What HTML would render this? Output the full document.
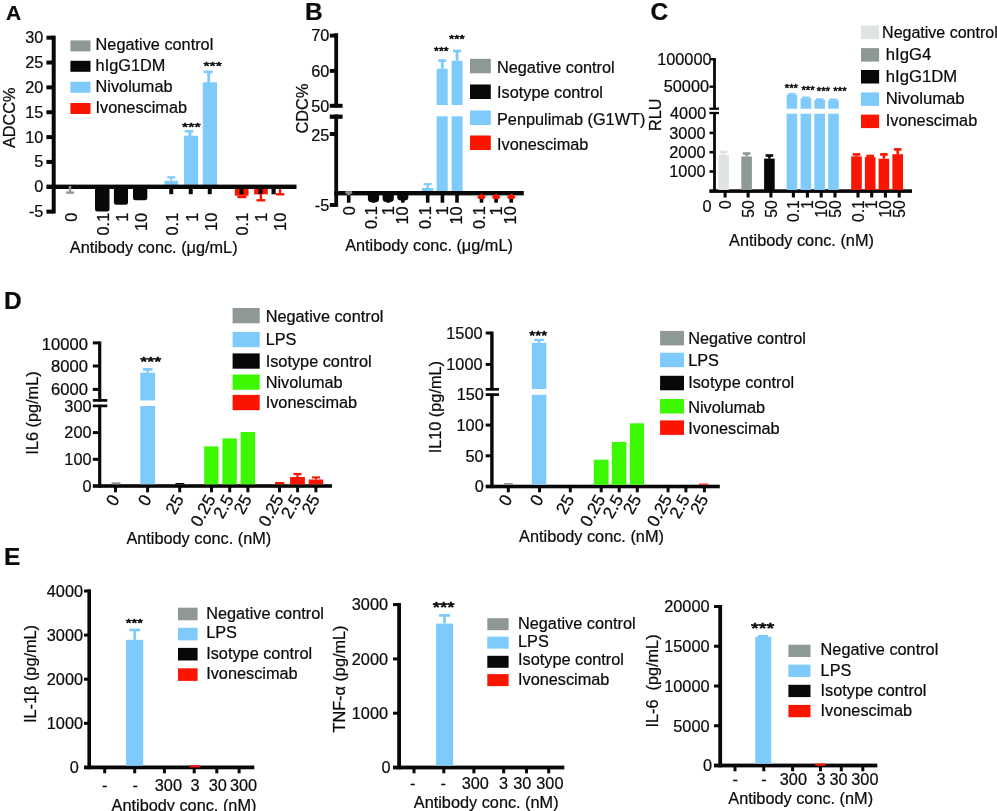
<!DOCTYPE html>
<html lang="en"><head><meta charset="utf-8"><title>Figure</title>
<style>
html,body{margin:0;padding:0;background:#fff;}
body{width:997px;height:811px;overflow:hidden;}
svg{display:block;filter:blur(0.4px);font-family:"Liberation Sans",sans-serif;fill:#0b0b0b;}
text{stroke:#0b0b0b;stroke-width:.22px;stroke-linejoin:round;}
</style></head><body>
<svg width="997" height="811" viewBox="0 0 997 811">
<rect x="0" y="0" width="997" height="811" fill="#ffffff"/>
<text x="6.00" y="20.00" font-size="21" font-weight="bold">A</text>
<rect x="51.70" y="35.60" width="4.00" height="178.00" fill="#080808"/>
<rect x="46.40" y="209.65" width="6.60" height="4.00" fill="#080808"/>
<text x="43.40" y="217.15" font-size="16.3" text-anchor="end">-5</text>
<text x="43.40" y="192.30" font-size="16.3" text-anchor="end">0</text>
<rect x="46.40" y="159.95" width="6.60" height="4.00" fill="#080808"/>
<text x="43.40" y="167.45" font-size="16.3" text-anchor="end">5</text>
<rect x="46.40" y="135.10" width="6.60" height="4.00" fill="#080808"/>
<text x="43.40" y="142.60" font-size="16.3" text-anchor="end">10</text>
<rect x="46.40" y="110.25" width="6.60" height="4.00" fill="#080808"/>
<text x="43.40" y="117.75" font-size="16.3" text-anchor="end">15</text>
<rect x="46.40" y="85.40" width="6.60" height="4.00" fill="#080808"/>
<text x="43.40" y="92.90" font-size="16.3" text-anchor="end">20</text>
<rect x="46.40" y="60.55" width="6.60" height="4.00" fill="#080808"/>
<text x="43.40" y="68.05" font-size="16.3" text-anchor="end">25</text>
<rect x="46.40" y="35.70" width="6.60" height="4.00" fill="#080808"/>
<text x="43.40" y="43.20" font-size="16.3" text-anchor="end">30</text>
<text x="14.80" y="117.80" font-size="16.3" text-anchor="middle" transform="rotate(-90 14.80 117.80)">ADCC%</text>
<rect x="70.40" y="40.40" width="20.10" height="11.00" fill="#8e9997"/>
<text x="95.60" y="50.10" font-size="16.3">Negative control</text>
<rect x="70.40" y="60.80" width="20.10" height="11.00" fill="#080808"/>
<text x="95.60" y="70.70" font-size="16.3">hIgG1DM</text>
<rect x="70.40" y="81.70" width="20.10" height="11.00" fill="#7dcafb"/>
<text x="95.60" y="91.90" font-size="16.3">Nivolumab</text>
<rect x="70.40" y="103.00" width="20.10" height="11.00" fill="#fb1400"/>
<text x="95.60" y="112.70" font-size="16.3">Ivonescimab</text>
<path d="M95.00 188.00H109.50V209.10Q109.50 211.60 107.00 211.60H97.50Q95.00 211.60 95.00 209.10Z" fill="#080808"/>
<path d="M113.90 188.00H128.00V202.20Q128.00 204.70 125.50 204.70H116.40Q113.90 204.70 113.90 202.20Z" fill="#080808"/>
<path d="M133.00 188.00H147.30V197.70Q147.30 200.20 144.80 200.20H135.50Q133.00 200.20 133.00 197.70Z" fill="#080808"/>
<rect x="164.50" y="180.75" width="13.50" height="4.25" fill="#7dcafb"/>
<rect x="170.15" y="177.30" width="2.20" height="3.45" fill="#7dcafb"/>
<rect x="167.25" y="176.20" width="8.00" height="2.20" fill="#7dcafb"/>
<rect x="184.00" y="135.70" width="14.20" height="49.30" fill="#7dcafb"/>
<rect x="188.50" y="131.00" width="2.80" height="5.00" fill="#7dcafb"/>
<rect x="184.80" y="130.05" width="8.50" height="2.50" fill="#7dcafb"/>
<rect x="202.80" y="82.30" width="14.20" height="102.70" fill="#7dcafb"/>
<rect x="207.25" y="71.50" width="2.90" height="11.50" fill="#7dcafb"/>
<rect x="203.70" y="70.55" width="9.00" height="2.70" fill="#7dcafb"/>
<rect x="234.80" y="188.00" width="13.70" height="7.70" fill="#fb1400"/>
<rect x="237.30" y="195.70" width="9.20" height="2.50" fill="#fb1400"/>
<rect x="254.10" y="188.00" width="13.70" height="6.30" fill="#fb1400"/>
<rect x="259.70" y="194.30" width="2.40" height="6.00" fill="#fb1400"/>
<rect x="256.50" y="199.10" width="8.80" height="2.40" fill="#fb1400"/>
<rect x="278.90" y="187.00" width="2.40" height="7.30" fill="#fb1400"/>
<rect x="275.90" y="193.10" width="8.40" height="2.40" fill="#fb1400"/>
<rect x="46.40" y="184.60" width="250.10" height="4.40" fill="#080808"/>
<text x="77.00" y="212.80" font-size="16.3" text-anchor="end" transform="rotate(-90 77.00 212.80)">0</text>
<rect x="100.00" y="188.00" width="4.00" height="6.20" fill="#080808"/>
<text x="109.00" y="212.80" font-size="16.3" text-anchor="end" transform="rotate(-90 109.00 212.80)">0.1</text>
<rect x="118.60" y="188.00" width="4.00" height="6.20" fill="#080808"/>
<text x="127.60" y="212.80" font-size="16.3" text-anchor="end" transform="rotate(-90 127.60 212.80)">1</text>
<rect x="137.70" y="188.00" width="4.00" height="6.20" fill="#080808"/>
<text x="146.70" y="212.80" font-size="16.3" text-anchor="end" transform="rotate(-90 146.70 212.80)">10</text>
<rect x="169.25" y="188.00" width="4.00" height="6.20" fill="#080808"/>
<text x="178.25" y="212.80" font-size="16.3" text-anchor="end" transform="rotate(-90 178.25 212.80)">0.1</text>
<rect x="188.75" y="188.00" width="4.00" height="6.20" fill="#080808"/>
<text x="197.75" y="212.80" font-size="16.3" text-anchor="end" transform="rotate(-90 197.75 212.80)">1</text>
<rect x="207.75" y="188.00" width="4.00" height="6.20" fill="#080808"/>
<text x="216.75" y="212.80" font-size="16.3" text-anchor="end" transform="rotate(-90 216.75 212.80)">10</text>
<rect x="239.50" y="188.00" width="4.00" height="6.20" fill="#080808"/>
<text x="248.50" y="212.80" font-size="16.3" text-anchor="end" transform="rotate(-90 248.50 212.80)">0.1</text>
<rect x="258.50" y="188.00" width="4.00" height="6.20" fill="#080808"/>
<text x="267.50" y="212.80" font-size="16.3" text-anchor="end" transform="rotate(-90 267.50 212.80)">1</text>
<text x="286.50" y="212.80" font-size="16.3" text-anchor="end" transform="rotate(-90 286.50 212.80)">10</text>
<rect x="271.50" y="188.00" width="4.20" height="6.30" fill="#080808"/>
<rect x="68.80" y="186.00" width="2.40" height="6.60" fill="#8e9997"/>
<rect x="66.00" y="191.40" width="8.00" height="2.40" fill="#8e9997"/>
<text transform="translate(191.40 131.12) scale(1.469 1)" x="0" y="0" font-size="10.85" text-anchor="middle" style="stroke-width:0.54px">***</text>
<text transform="translate(212.60 70.14) scale(1.417 1)" x="0" y="0" font-size="11.06" text-anchor="middle" style="stroke-width:0.55px">***</text>
<text x="153.70" y="252.70" font-size="16.3" text-anchor="middle">Antibody conc. (μg/mL)</text>
<text x="304.90" y="19.90" font-size="24.5" font-weight="bold">B</text>
<rect x="334.30" y="33.20" width="3.80" height="74.30" fill="#080808"/>
<rect x="334.30" y="114.50" width="3.80" height="92.30" fill="#080808"/>
<rect x="329.80" y="103.80" width="12.80" height="4.00" fill="#080808"/>
<rect x="329.80" y="114.60" width="12.80" height="4.20" fill="#080808"/>
<rect x="329.80" y="33.65" width="7.20" height="3.90" fill="#080808"/>
<rect x="329.80" y="68.95" width="7.20" height="3.90" fill="#080808"/>
<text x="329.30" y="41.00" font-size="16.3" text-anchor="end">70</text>
<text x="329.30" y="76.70" font-size="16.3" text-anchor="end">60</text>
<text x="329.30" y="111.80" font-size="16.3" text-anchor="end">50</text>
<rect x="329.80" y="132.05" width="7.20" height="3.90" fill="#080808"/>
<text x="329.30" y="140.60" font-size="16.3" text-anchor="end">25</text>
<rect x="329.80" y="203.05" width="7.20" height="3.90" fill="#080808"/>
<text x="329.30" y="210.80" font-size="16.3" text-anchor="end">-5</text>
<text x="308.00" y="108.50" font-size="16.3" text-anchor="middle" transform="rotate(-90 308.00 108.50)">CDC%</text>
<rect x="421.90" y="188.00" width="11.40" height="4.00" fill="#7dcafb"/>
<rect x="426.50" y="184.20" width="2.20" height="3.80" fill="#7dcafb"/>
<rect x="423.60" y="183.10" width="8.00" height="2.20" fill="#7dcafb"/>
<rect x="436.60" y="68.80" width="11.10" height="36.20" fill="#7dcafb"/>
<rect x="436.60" y="116.30" width="11.10" height="75.70" fill="#7dcafb"/>
<rect x="440.90" y="60.60" width="2.80" height="8.20" fill="#7dcafb"/>
<rect x="438.40" y="59.20" width="7.80" height="2.80" fill="#7dcafb"/>
<rect x="451.60" y="60.80" width="11.00" height="44.20" fill="#7dcafb"/>
<rect x="451.60" y="116.30" width="11.00" height="75.70" fill="#7dcafb"/>
<rect x="455.70" y="51.00" width="2.80" height="9.80" fill="#7dcafb"/>
<rect x="453.10" y="49.60" width="8.00" height="2.80" fill="#7dcafb"/>
<rect x="334.30" y="191.00" width="189.50" height="4.40" fill="#080808"/>
<rect x="346.90" y="194.00" width="3.60" height="8.70" fill="#080808"/>
<text x="354.80" y="206.30" font-size="16.3" text-anchor="end" transform="rotate(-90 354.80 206.30)">0</text>
<rect x="371.70" y="194.00" width="3.60" height="8.70" fill="#080808"/>
<text x="377.20" y="206.30" font-size="16.3" text-anchor="end" transform="rotate(-90 377.20 206.30)">0.1</text>
<rect x="386.40" y="194.00" width="3.60" height="8.70" fill="#080808"/>
<text x="394.30" y="206.30" font-size="16.3" text-anchor="end" transform="rotate(-90 394.30 206.30)">1</text>
<rect x="401.00" y="194.00" width="3.60" height="8.70" fill="#080808"/>
<text x="407.90" y="206.30" font-size="16.3" text-anchor="end" transform="rotate(-90 407.90 206.30)">10</text>
<rect x="425.90" y="194.00" width="3.60" height="8.70" fill="#080808"/>
<text x="431.40" y="206.30" font-size="16.3" text-anchor="end" transform="rotate(-90 431.40 206.30)">0.1</text>
<rect x="440.60" y="194.00" width="3.60" height="8.70" fill="#080808"/>
<text x="448.50" y="206.30" font-size="16.3" text-anchor="end" transform="rotate(-90 448.50 206.30)">1</text>
<rect x="455.20" y="194.00" width="3.60" height="8.70" fill="#080808"/>
<text x="462.10" y="206.30" font-size="16.3" text-anchor="end" transform="rotate(-90 462.10 206.30)">10</text>
<rect x="479.70" y="194.00" width="3.60" height="8.70" fill="#080808"/>
<text x="485.20" y="206.30" font-size="16.3" text-anchor="end" transform="rotate(-90 485.20 206.30)">0.1</text>
<rect x="494.30" y="194.00" width="3.60" height="8.70" fill="#080808"/>
<text x="502.20" y="206.30" font-size="16.3" text-anchor="end" transform="rotate(-90 502.20 206.30)">1</text>
<rect x="509.40" y="194.00" width="3.60" height="8.70" fill="#080808"/>
<text x="516.30" y="206.30" font-size="16.3" text-anchor="end" transform="rotate(-90 516.30 206.30)">10</text>
<path d="M367.90 194.5H379.10V198.80Q379.10 202.30 375.30 202.30H371.70Q367.90 202.30 367.90 198.80Z" fill="#080808"/>
<path d="M382.60 194.5H393.80V198.50Q393.80 202.00 390.00 202.00H386.40Q382.60 202.00 382.60 198.50Z" fill="#080808"/>
<path d="M397.20 194.5H408.40V197.00Q408.40 200.50 404.60 200.50H401.00Q397.20 200.50 397.20 197.00Z" fill="#080808"/>
<rect x="345.30" y="191.20" width="6.90" height="2.40" fill="#8e9997"/>
<path d="M345.3 193.6H352.2L348.7 195.6Z" fill="#8e9997"/>
<path d="M481.50 193.6L485.70 196.4L484.50 199H478.50L477.30 196.4Z" fill="#fb1400"/>
<path d="M496.10 193.6L500.30 196.4L499.10 199H493.10L491.90 196.4Z" fill="#fb1400"/>
<path d="M511.20 193.6L515.40 196.4L514.20 199H508.20L507.00 196.4Z" fill="#fb1400"/>
<text transform="translate(441.30 54.74) scale(1.118 1)" x="0" y="0" font-size="11.06" text-anchor="middle" style="stroke-width:0.55px">***</text>
<text transform="translate(456.80 43.49) scale(1.146 1)" x="0" y="0" font-size="11.70" text-anchor="middle" style="stroke-width:0.59px">***</text>
<rect x="470.00" y="58.80" width="20.80" height="14.50" fill="#8e9997"/>
<text x="497.00" y="72.80" font-size="16.3">Negative control</text>
<rect x="470.00" y="84.50" width="20.80" height="14.50" fill="#080808"/>
<text x="497.00" y="98.30" font-size="16.3">Isotype control</text>
<rect x="470.00" y="110.50" width="20.80" height="14.50" fill="#7dcafb"/>
<text x="497.00" y="124.80" font-size="16.3">Penpulimab (G1WT)</text>
<rect x="470.00" y="135.50" width="20.80" height="14.50" fill="#fb1400"/>
<text x="497.00" y="149.80" font-size="16.3">Ivonescimab</text>
<text x="429.00" y="251.00" font-size="16.3" text-anchor="middle">Antibody conc. (μg/mL)</text>
<text x="650.50" y="20.30" font-size="24.5" font-weight="bold">C</text>
<rect x="713.10" y="58.00" width="2.80" height="51.50" fill="#080808"/>
<rect x="713.10" y="112.20" width="2.80" height="80.20" fill="#080808"/>
<rect x="709.40" y="107.55" width="9.60" height="2.30" fill="#080808"/>
<rect x="709.40" y="111.85" width="9.60" height="2.30" fill="#080808"/>
<rect x="710.50" y="58.00" width="3.50" height="2.40" fill="#080808"/>
<text x="711.50" y="65.00" font-size="16.3" text-anchor="end">100000</text>
<rect x="709.50" y="85.50" width="4.50" height="2.40" fill="#080808"/>
<text x="709.00" y="92.10" font-size="16.3" text-anchor="end">50000</text>
<text x="706.30" y="119.10" font-size="16.3" text-anchor="end">4000</text>
<rect x="709.50" y="170.20" width="4.50" height="2.60" fill="#080808"/>
<text x="705.50" y="177.30" font-size="16.3" text-anchor="end">1000</text>
<rect x="709.50" y="150.90" width="4.50" height="2.60" fill="#080808"/>
<text x="705.50" y="158.00" font-size="16.3" text-anchor="end">2000</text>
<rect x="709.50" y="131.60" width="4.50" height="2.60" fill="#080808"/>
<text x="705.50" y="138.70" font-size="16.3" text-anchor="end">3000</text>
<text x="711.50" y="211.50" font-size="16.3" text-anchor="end">0</text>
<rect x="709.30" y="189.30" width="202.70" height="3.60" fill="#080808"/>
<text x="661.50" y="114.80" font-size="16.3" text-anchor="middle" transform="rotate(-90 661.50 114.80)">RLU</text>
<rect x="723.55" y="192.00" width="3.10" height="5.50" fill="#080808"/>
<text x="730.90" y="200.30" font-size="15.6" text-anchor="end" transform="rotate(-90 730.90 200.30)">0</text>
<rect x="746.55" y="192.00" width="3.10" height="5.50" fill="#080808"/>
<text x="753.90" y="200.30" font-size="15.6" text-anchor="end" transform="rotate(-90 753.90 200.30)">50</text>
<rect x="769.35" y="192.00" width="3.10" height="5.50" fill="#080808"/>
<text x="776.70" y="200.30" font-size="15.6" text-anchor="end" transform="rotate(-90 776.70 200.30)">50</text>
<rect x="791.85" y="192.00" width="3.10" height="5.50" fill="#080808"/>
<text x="799.20" y="200.30" font-size="15.6" text-anchor="end" transform="rotate(-90 799.20 200.30)">0.1</text>
<rect x="805.85" y="192.00" width="3.10" height="5.50" fill="#080808"/>
<text x="813.20" y="200.30" font-size="15.6" text-anchor="end" transform="rotate(-90 813.20 200.30)">1</text>
<rect x="819.65" y="192.00" width="3.10" height="5.50" fill="#080808"/>
<text x="827.00" y="200.30" font-size="15.6" text-anchor="end" transform="rotate(-90 827.00 200.30)">10</text>
<rect x="833.45" y="192.00" width="3.10" height="5.50" fill="#080808"/>
<text x="840.80" y="200.30" font-size="15.6" text-anchor="end" transform="rotate(-90 840.80 200.30)">50</text>
<rect x="856.45" y="192.00" width="3.10" height="5.50" fill="#080808"/>
<text x="863.80" y="200.30" font-size="15.6" text-anchor="end" transform="rotate(-90 863.80 200.30)">0.1</text>
<rect x="870.15" y="192.00" width="3.10" height="5.50" fill="#080808"/>
<text x="877.50" y="200.30" font-size="15.6" text-anchor="end" transform="rotate(-90 877.50 200.30)">1</text>
<rect x="883.85" y="192.00" width="3.10" height="5.50" fill="#080808"/>
<text x="891.20" y="200.30" font-size="15.6" text-anchor="end" transform="rotate(-90 891.20 200.30)">10</text>
<rect x="897.65" y="192.00" width="3.10" height="5.50" fill="#080808"/>
<text x="905.00" y="200.30" font-size="15.6" text-anchor="end" transform="rotate(-90 905.00 200.30)">50</text>
<rect x="718.30" y="154.70" width="10.60" height="35.30" fill="#dfe3e3"/>
<rect x="722.30" y="151.80" width="2.60" height="2.90" fill="#dfe3e3"/>
<rect x="719.80" y="150.50" width="7.60" height="2.60" fill="#dfe3e3"/>
<rect x="741.30" y="156.50" width="10.60" height="33.50" fill="#8e9997"/>
<rect x="745.30" y="153.50" width="2.60" height="3.00" fill="#8e9997"/>
<rect x="742.80" y="152.20" width="7.60" height="2.60" fill="#8e9997"/>
<rect x="764.10" y="158.60" width="10.60" height="31.40" fill="#080808"/>
<rect x="768.10" y="155.50" width="2.60" height="3.10" fill="#080808"/>
<rect x="765.60" y="154.20" width="7.60" height="2.60" fill="#080808"/>
<rect x="786.60" y="94.80" width="10.60" height="13.90" fill="#7dcafb"/>
<rect x="788.10" y="93.10" width="7.60" height="1.80" fill="#7dcafb"/>
<rect x="786.60" y="113.70" width="10.60" height="76.30" fill="#7dcafb"/>
<rect x="800.60" y="98.30" width="10.60" height="10.40" fill="#7dcafb"/>
<rect x="802.10" y="96.60" width="7.60" height="1.80" fill="#7dcafb"/>
<rect x="800.60" y="113.70" width="10.60" height="76.30" fill="#7dcafb"/>
<rect x="814.40" y="100.00" width="10.60" height="8.70" fill="#7dcafb"/>
<rect x="815.90" y="98.30" width="7.60" height="1.80" fill="#7dcafb"/>
<rect x="814.40" y="113.70" width="10.60" height="76.30" fill="#7dcafb"/>
<rect x="828.20" y="100.20" width="10.60" height="8.50" fill="#7dcafb"/>
<rect x="829.70" y="98.50" width="7.60" height="1.80" fill="#7dcafb"/>
<rect x="828.20" y="113.70" width="10.60" height="76.30" fill="#7dcafb"/>
<rect x="851.20" y="156.40" width="10.60" height="33.60" fill="#fb1400"/>
<rect x="855.20" y="154.40" width="2.60" height="2.00" fill="#fb1400"/>
<rect x="852.70" y="153.10" width="7.60" height="2.60" fill="#fb1400"/>
<rect x="864.90" y="157.10" width="10.60" height="32.90" fill="#fb1400"/>
<rect x="868.90" y="156.00" width="2.60" height="1.10" fill="#fb1400"/>
<rect x="866.40" y="154.70" width="7.60" height="2.60" fill="#fb1400"/>
<rect x="878.60" y="158.70" width="10.60" height="31.30" fill="#fb1400"/>
<rect x="882.60" y="154.40" width="2.60" height="4.30" fill="#fb1400"/>
<rect x="880.10" y="153.10" width="7.60" height="2.60" fill="#fb1400"/>
<rect x="892.40" y="154.20" width="10.60" height="35.80" fill="#fb1400"/>
<rect x="896.40" y="149.40" width="2.60" height="4.80" fill="#fb1400"/>
<rect x="893.90" y="148.10" width="7.60" height="2.60" fill="#fb1400"/>
<text transform="translate(791.40 91.90) scale(1.073 1)" x="0" y="0" font-size="10.64" text-anchor="middle" style="stroke-width:0.53px">***</text>
<text transform="translate(808.10 93.60) scale(1.073 1)" x="0" y="0" font-size="10.64" text-anchor="middle" style="stroke-width:0.53px">***</text>
<text transform="translate(823.40 94.70) scale(1.073 1)" x="0" y="0" font-size="10.64" text-anchor="middle" style="stroke-width:0.53px">***</text>
<text transform="translate(840.00 94.70) scale(1.073 1)" x="0" y="0" font-size="10.64" text-anchor="middle" style="stroke-width:0.53px">***</text>
<rect x="861.00" y="25.60" width="18.10" height="13.50" fill="#dfe3e3"/>
<text x="882.10" y="38.00" font-size="16.0">Negative control</text>
<rect x="861.00" y="48.10" width="18.10" height="13.50" fill="#8e9997"/>
<text x="885.80" y="59.60" font-size="16.7">hIgG4</text>
<rect x="861.00" y="70.00" width="18.10" height="13.50" fill="#080808"/>
<text x="885.80" y="81.90" font-size="16.7">hIgG1DM</text>
<rect x="861.00" y="92.40" width="18.10" height="13.50" fill="#7dcafb"/>
<text x="885.80" y="104.20" font-size="16.7">Nivolumab</text>
<rect x="861.00" y="114.60" width="18.10" height="13.50" fill="#fb1400"/>
<text x="885.80" y="126.20" font-size="16.3">Ivonescimab</text>
<text x="801.50" y="246.20" font-size="16.3" text-anchor="middle">Antibody conc. (nM)</text>
<text x="4.00" y="309.00" font-size="24.5" font-weight="bold">D</text>
<rect x="98.10" y="341.50" width="3.20" height="60.00" fill="#080808"/>
<rect x="98.10" y="404.80" width="3.20" height="82.90" fill="#080808"/>
<rect x="92.80" y="399.05" width="14.50" height="2.70" fill="#080808"/>
<rect x="92.80" y="404.55" width="14.50" height="2.70" fill="#080808"/>
<rect x="92.80" y="341.40" width="7.20" height="3.00" fill="#080808"/>
<text x="88.00" y="349.50" font-size="16.6" text-anchor="end">10000</text>
<rect x="92.80" y="364.50" width="7.20" height="3.00" fill="#080808"/>
<text x="88.00" y="372.00" font-size="16.6" text-anchor="end">8000</text>
<rect x="92.80" y="387.90" width="7.20" height="3.00" fill="#080808"/>
<text x="88.00" y="395.20" font-size="16.6" text-anchor="end">6000</text>
<text x="91.50" y="412.20" font-size="16.3" text-anchor="end">300</text>
<text x="91.50" y="491.80" font-size="16.3" text-anchor="end">0</text>
<rect x="92.80" y="457.80" width="7.20" height="3.00" fill="#080808"/>
<text x="91.50" y="465.10" font-size="16.3" text-anchor="end">100</text>
<rect x="92.80" y="431.10" width="7.20" height="3.00" fill="#080808"/>
<text x="91.50" y="438.40" font-size="16.3" text-anchor="end">200</text>
<rect x="92.80" y="484.20" width="239.20" height="3.60" fill="#080808"/>
<text x="38.30" y="413.00" font-size="16.3" text-anchor="middle" transform="rotate(-90 38.30 413.00)">IL6 (pg/mL)</text>
<rect x="114.00" y="487.00" width="3.00" height="5.30" fill="#080808"/>
<text x="120.10" y="498.80" font-size="17.2" text-anchor="end" transform="rotate(-61 120.10 498.80)">0</text>
<rect x="146.10" y="487.00" width="3.00" height="5.30" fill="#080808"/>
<text x="152.20" y="498.80" font-size="17.2" text-anchor="end" transform="rotate(-61 152.20 498.80)">0</text>
<rect x="178.20" y="487.00" width="3.00" height="5.30" fill="#080808"/>
<text x="184.30" y="498.80" font-size="17.2" text-anchor="end" transform="rotate(-61 184.30 498.80)">25</text>
<rect x="210.00" y="487.00" width="3.00" height="5.30" fill="#080808"/>
<text x="216.10" y="498.80" font-size="17.2" text-anchor="end" transform="rotate(-61 216.10 498.80)">0.25</text>
<rect x="228.20" y="487.00" width="3.00" height="5.30" fill="#080808"/>
<text x="234.30" y="498.80" font-size="17.2" text-anchor="end" transform="rotate(-61 234.30 498.80)">2.5</text>
<rect x="246.40" y="487.00" width="3.00" height="5.30" fill="#080808"/>
<text x="252.50" y="498.80" font-size="17.2" text-anchor="end" transform="rotate(-61 252.50 498.80)">25</text>
<rect x="278.00" y="487.00" width="3.00" height="5.30" fill="#080808"/>
<text x="284.10" y="498.80" font-size="17.2" text-anchor="end" transform="rotate(-61 284.10 498.80)">0.25</text>
<rect x="296.10" y="487.00" width="3.00" height="5.30" fill="#080808"/>
<text x="302.20" y="498.80" font-size="17.2" text-anchor="end" transform="rotate(-61 302.20 498.80)">2.5</text>
<rect x="314.40" y="487.00" width="3.00" height="5.30" fill="#080808"/>
<text x="320.50" y="498.80" font-size="17.2" text-anchor="end" transform="rotate(-61 320.50 498.80)">25</text>
<rect x="111.60" y="482.30" width="8.80" height="2.00" fill="#8e9997"/>
<rect x="140.30" y="372.60" width="14.80" height="27.80" fill="#7dcafb"/>
<rect x="140.30" y="406.00" width="14.80" height="78.30" fill="#7dcafb"/>
<rect x="146.35" y="369.40" width="2.70" height="3.20" fill="#7dcafb"/>
<rect x="142.80" y="368.05" width="9.80" height="2.70" fill="#7dcafb"/>
<rect x="175.50" y="483.00" width="8.80" height="1.30" fill="#080808"/>
<rect x="204.20" y="446.40" width="14.30" height="37.90" fill="#3cf900"/>
<rect x="222.40" y="438.40" width="14.40" height="45.90" fill="#3cf900"/>
<rect x="240.60" y="432.00" width="14.40" height="52.30" fill="#3cf900"/>
<rect x="275.00" y="482.00" width="9.30" height="2.30" fill="#fb1400"/>
<rect x="290.10" y="477.00" width="14.80" height="7.30" fill="#fb1400"/>
<rect x="296.40" y="474.00" width="2.20" height="3.00" fill="#fb1400"/>
<rect x="293.50" y="472.90" width="8.00" height="2.20" fill="#fb1400"/>
<rect x="308.70" y="479.50" width="14.50" height="4.80" fill="#fb1400"/>
<rect x="315.00" y="477.40" width="2.00" height="2.10" fill="#fb1400"/>
<rect x="312.00" y="476.40" width="8.00" height="2.00" fill="#fb1400"/>
<text transform="translate(150.80 366.14) scale(1.339 1)" x="0" y="0" font-size="13.40" text-anchor="middle" style="stroke-width:0.67px">***</text>
<rect x="232.60" y="308.00" width="27.10" height="15.30" fill="#8e9997"/>
<text x="265.70" y="322.00" font-size="16.3">Negative control</text>
<rect x="232.60" y="331.90" width="27.10" height="15.30" fill="#7dcafb"/>
<text x="265.70" y="345.00" font-size="16.3">LPS</text>
<rect x="232.60" y="353.40" width="27.10" height="15.30" fill="#080808"/>
<text x="265.70" y="366.50" font-size="16.3">Isotype control</text>
<rect x="232.60" y="374.50" width="27.10" height="15.30" fill="#3cf900"/>
<text x="265.70" y="387.80" font-size="16.3">Nivolumab</text>
<rect x="232.60" y="394.90" width="27.10" height="15.30" fill="#fb1400"/>
<text x="265.70" y="408.00" font-size="16.3">Ivonescimab</text>
<text x="198.80" y="544.00" font-size="16.3" text-anchor="middle">Antibody conc. (nM)</text>
<rect x="490.20" y="331.60" width="3.40" height="58.70" fill="#080808"/>
<rect x="490.20" y="393.60" width="3.40" height="94.60" fill="#080808"/>
<rect x="485.70" y="387.95" width="13.30" height="2.70" fill="#080808"/>
<rect x="485.70" y="393.25" width="13.30" height="2.70" fill="#080808"/>
<rect x="485.70" y="331.50" width="6.30" height="3.00" fill="#080808"/>
<text x="482.50" y="338.80" font-size="16.3" text-anchor="end">1500</text>
<rect x="485.70" y="362.90" width="6.30" height="3.00" fill="#080808"/>
<text x="482.50" y="370.20" font-size="16.3" text-anchor="end">1000</text>
<text x="483.80" y="400.30" font-size="16.3" text-anchor="end">150</text>
<text x="483.70" y="492.30" font-size="16.3" text-anchor="end">0</text>
<rect x="485.70" y="454.30" width="6.30" height="3.00" fill="#080808"/>
<text x="483.70" y="461.60" font-size="16.3" text-anchor="end">50</text>
<rect x="485.70" y="423.60" width="6.30" height="3.00" fill="#080808"/>
<text x="483.70" y="430.90" font-size="16.3" text-anchor="end">100</text>
<rect x="485.70" y="484.70" width="234.10" height="3.60" fill="#080808"/>
<text x="441.30" y="407.20" font-size="16.3" text-anchor="middle" transform="rotate(-90 441.30 407.20)">IL10 (pg/mL)</text>
<rect x="506.80" y="487.50" width="3.00" height="4.80" fill="#080808"/>
<text x="512.90" y="498.80" font-size="17.2" text-anchor="end" transform="rotate(-61 512.90 498.80)">0</text>
<rect x="538.00" y="487.50" width="3.00" height="4.80" fill="#080808"/>
<text x="544.10" y="498.80" font-size="17.2" text-anchor="end" transform="rotate(-61 544.10 498.80)">0</text>
<rect x="568.80" y="487.50" width="3.00" height="4.80" fill="#080808"/>
<text x="574.90" y="498.80" font-size="17.2" text-anchor="end" transform="rotate(-61 574.90 498.80)">25</text>
<rect x="599.70" y="487.50" width="3.00" height="4.80" fill="#080808"/>
<text x="605.80" y="498.80" font-size="17.2" text-anchor="end" transform="rotate(-61 605.80 498.80)">0.25</text>
<rect x="617.70" y="487.50" width="3.00" height="4.80" fill="#080808"/>
<text x="623.80" y="498.80" font-size="17.2" text-anchor="end" transform="rotate(-61 623.80 498.80)">2.5</text>
<rect x="635.80" y="487.50" width="3.00" height="4.80" fill="#080808"/>
<text x="641.90" y="498.80" font-size="17.2" text-anchor="end" transform="rotate(-61 641.90 498.80)">25</text>
<rect x="666.60" y="487.50" width="3.00" height="4.80" fill="#080808"/>
<text x="672.70" y="498.80" font-size="17.2" text-anchor="end" transform="rotate(-61 672.70 498.80)">0.25</text>
<rect x="684.40" y="487.50" width="3.00" height="4.80" fill="#080808"/>
<text x="690.50" y="498.80" font-size="17.2" text-anchor="end" transform="rotate(-61 690.50 498.80)">2.5</text>
<rect x="702.90" y="487.50" width="3.00" height="4.80" fill="#080808"/>
<text x="709.00" y="498.80" font-size="17.2" text-anchor="end" transform="rotate(-61 709.00 498.80)">25</text>
<rect x="504.00" y="483.00" width="8.80" height="1.80" fill="#8e9997"/>
<rect x="531.80" y="342.80" width="14.50" height="46.20" fill="#7dcafb"/>
<rect x="531.80" y="394.80" width="14.50" height="90.00" fill="#7dcafb"/>
<rect x="537.80" y="340.00" width="2.40" height="2.80" fill="#7dcafb"/>
<rect x="534.15" y="338.80" width="9.70" height="2.40" fill="#7dcafb"/>
<rect x="593.80" y="459.70" width="14.80" height="25.10" fill="#3cf900"/>
<rect x="611.80" y="441.90" width="14.60" height="42.90" fill="#3cf900"/>
<rect x="629.90" y="423.30" width="14.10" height="61.50" fill="#3cf900"/>
<rect x="699.00" y="483.60" width="9.30" height="1.20" fill="#fb1400"/>
<text transform="translate(538.30 339.75) scale(1.242 1)" x="0" y="0" font-size="12.34" text-anchor="middle" style="stroke-width:0.62px">***</text>
<rect x="660.10" y="330.90" width="23.90" height="14.50" fill="#8e9997"/>
<text x="688.20" y="343.90" font-size="16.3">Negative control</text>
<rect x="660.10" y="352.70" width="23.90" height="14.50" fill="#7dcafb"/>
<text x="688.20" y="365.70" font-size="16.3">LPS</text>
<rect x="660.10" y="375.80" width="23.90" height="14.50" fill="#080808"/>
<text x="688.20" y="388.40" font-size="16.3">Isotype control</text>
<rect x="660.10" y="399.00" width="23.90" height="14.50" fill="#3cf900"/>
<text x="688.20" y="412.60" font-size="16.3">Nivolumab</text>
<rect x="660.10" y="420.40" width="23.90" height="14.50" fill="#fb1400"/>
<text x="688.20" y="433.70" font-size="16.3">Ivonescimab</text>
<text x="591.50" y="541.70" font-size="16.3" text-anchor="middle">Antibody conc. (nM)</text>
<text x="4.00" y="565.00" font-size="24.5" font-weight="bold">E</text>
<rect x="87.40" y="589.40" width="3.60" height="179.80" fill="#080808"/>
<text x="78.80" y="773.20" font-size="16.3" text-anchor="end">0</text>
<rect x="84.00" y="721.80" width="6.00" height="3.00" fill="#080808"/>
<text x="83.00" y="729.10" font-size="16.3" text-anchor="end">1000</text>
<rect x="84.00" y="677.70" width="6.00" height="3.00" fill="#080808"/>
<text x="83.00" y="685.00" font-size="16.3" text-anchor="end">2000</text>
<rect x="84.00" y="633.60" width="6.00" height="3.00" fill="#080808"/>
<text x="83.00" y="640.90" font-size="16.3" text-anchor="end">3000</text>
<rect x="84.00" y="589.50" width="6.00" height="3.00" fill="#080808"/>
<text x="83.00" y="596.80" font-size="16.3" text-anchor="end">4000</text>
<rect x="84.00" y="765.50" width="170.30" height="3.80" fill="#080808"/>
<text x="36.20" y="674.00" font-size="16.3" text-anchor="middle" transform="rotate(-90 36.20 674.00)">IL-1β (pg/mL)</text>
<rect x="103.20" y="769.00" width="3.00" height="4.30" fill="#080808"/>
<text x="104.60" y="791.40" font-size="16.3" text-anchor="middle">-</text>
<rect x="133.20" y="769.00" width="3.00" height="4.30" fill="#080808"/>
<text x="135.20" y="791.40" font-size="16.3" text-anchor="middle">-</text>
<rect x="162.90" y="769.00" width="3.00" height="4.30" fill="#080808"/>
<text x="168.40" y="791.40" font-size="16.3" text-anchor="middle">300</text>
<rect x="192.70" y="769.00" width="3.00" height="4.30" fill="#080808"/>
<text x="195.10" y="791.40" font-size="16.3" text-anchor="middle">3</text>
<rect x="215.30" y="769.00" width="3.00" height="4.30" fill="#080808"/>
<text x="217.70" y="791.40" font-size="16.3" text-anchor="middle">30</text>
<rect x="237.60" y="769.00" width="3.00" height="4.30" fill="#080808"/>
<text x="243.60" y="791.40" font-size="16.3" text-anchor="middle">300</text>
<rect x="126.10" y="639.80" width="17.10" height="125.90" fill="#7dcafb"/>
<rect x="133.35" y="630.00" width="2.70" height="9.80" fill="#7dcafb"/>
<rect x="129.30" y="628.65" width="10.80" height="2.70" fill="#7dcafb"/>
<rect x="189.60" y="765.20" width="10.30" height="2.20" fill="#fb1400"/>
<text transform="translate(134.30 626.99) scale(1.265 1)" x="0" y="0" font-size="11.70" text-anchor="middle" style="stroke-width:0.59px">***</text>
<rect x="178.00" y="607.70" width="19.60" height="12.60" fill="#8e9997"/>
<text x="206.20" y="618.90" font-size="16.3">Negative control</text>
<rect x="178.00" y="627.80" width="19.60" height="12.60" fill="#7dcafb"/>
<text x="206.20" y="638.40" font-size="16.3">LPS</text>
<rect x="178.00" y="647.90" width="19.60" height="12.60" fill="#080808"/>
<text x="206.20" y="658.50" font-size="16.3">Isotype control</text>
<rect x="178.00" y="668.30" width="19.60" height="12.60" fill="#fb1400"/>
<text x="206.20" y="678.60" font-size="16.3">Ivonescimab</text>
<text x="184.00" y="810.50" font-size="16.3" text-anchor="middle">Antibody conc. (nM)</text>
<rect x="397.20" y="603.10" width="3.80" height="166.20" fill="#080808"/>
<text x="390.60" y="773.30" font-size="16.3" text-anchor="end">0</text>
<rect x="393.00" y="711.70" width="7.00" height="3.00" fill="#080808"/>
<text x="388.00" y="719.00" font-size="16.3" text-anchor="end">1000</text>
<rect x="393.00" y="657.40" width="7.00" height="3.00" fill="#080808"/>
<text x="388.00" y="664.70" font-size="16.3" text-anchor="end">2000</text>
<rect x="393.00" y="603.10" width="7.00" height="3.00" fill="#080808"/>
<text x="388.00" y="610.40" font-size="16.3" text-anchor="end">3000</text>
<rect x="393.00" y="765.60" width="171.30" height="3.80" fill="#080808"/>
<text x="345.30" y="679.00" font-size="16.3" text-anchor="middle" transform="rotate(-90 345.30 679.00)">TNF-α (pg/mL)</text>
<rect x="412.50" y="769.00" width="3.00" height="4.30" fill="#080808"/>
<text x="412.80" y="789.30" font-size="16.3" text-anchor="middle">-</text>
<rect x="442.30" y="769.00" width="3.00" height="4.30" fill="#080808"/>
<text x="443.20" y="789.30" font-size="16.3" text-anchor="middle">-</text>
<rect x="472.40" y="769.00" width="3.00" height="4.30" fill="#080808"/>
<text x="475.30" y="789.30" font-size="16.3" text-anchor="middle">300</text>
<rect x="502.20" y="769.00" width="3.00" height="4.30" fill="#080808"/>
<text x="503.50" y="789.30" font-size="16.3" text-anchor="middle">3</text>
<rect x="525.00" y="769.00" width="3.00" height="4.30" fill="#080808"/>
<text x="522.30" y="789.30" font-size="16.3" text-anchor="middle">30</text>
<rect x="547.20" y="769.00" width="3.00" height="4.30" fill="#080808"/>
<text x="549.90" y="789.30" font-size="16.3" text-anchor="middle">300</text>
<rect x="436.10" y="623.60" width="17.00" height="142.10" fill="#7dcafb"/>
<rect x="443.15" y="615.40" width="2.70" height="8.20" fill="#7dcafb"/>
<rect x="439.05" y="614.05" width="10.90" height="2.70" fill="#7dcafb"/>
<text transform="translate(443.60 612.18) scale(1.348 1)" x="0" y="0" font-size="13.83" text-anchor="middle" style="stroke-width:0.69px">***</text>
<rect x="487.30" y="618.20" width="21.30" height="12.00" fill="#8e9997"/>
<text x="518.00" y="628.50" font-size="16.3">Negative control</text>
<rect x="487.30" y="636.60" width="21.30" height="12.00" fill="#7dcafb"/>
<text x="518.00" y="646.70" font-size="16.3">LPS</text>
<rect x="487.30" y="655.80" width="21.30" height="12.00" fill="#080808"/>
<text x="518.00" y="665.30" font-size="16.3">Isotype control</text>
<rect x="487.30" y="674.10" width="21.30" height="12.00" fill="#fb1400"/>
<text x="518.00" y="684.60" font-size="16.3">Ivonescimab</text>
<text x="486.20" y="808.00" font-size="16.3" text-anchor="middle">Antibody conc. (nM)</text>
<rect x="718.30" y="605.00" width="3.80" height="162.30" fill="#080808"/>
<text x="712.00" y="771.30" font-size="16.3" text-anchor="end">0</text>
<rect x="714.00" y="724.25" width="7.00" height="3.00" fill="#080808"/>
<text x="709.50" y="731.55" font-size="16.3" text-anchor="end">5000</text>
<rect x="714.00" y="684.50" width="7.00" height="3.00" fill="#080808"/>
<text x="709.50" y="691.80" font-size="16.3" text-anchor="end">10000</text>
<rect x="714.00" y="644.75" width="7.00" height="3.00" fill="#080808"/>
<text x="709.50" y="652.05" font-size="16.3" text-anchor="end">15000</text>
<rect x="714.00" y="605.00" width="7.00" height="3.00" fill="#080808"/>
<text x="709.50" y="612.30" font-size="16.3" text-anchor="end">20000</text>
<rect x="714.00" y="763.60" width="163.30" height="3.80" fill="#080808"/>
<text x="658.20" y="681.00" font-size="16.3" text-anchor="middle" transform="rotate(-90 658.20 681.00)">IL-6 &#160;(pg/mL)</text>
<rect x="733.50" y="767.00" width="3.00" height="4.30" fill="#080808"/>
<text x="735.10" y="784.80" font-size="16.3" text-anchor="middle">-</text>
<rect x="762.30" y="767.00" width="3.00" height="4.30" fill="#080808"/>
<text x="763.90" y="784.80" font-size="16.3" text-anchor="middle">-</text>
<rect x="791.10" y="767.00" width="3.00" height="4.30" fill="#080808"/>
<text x="793.40" y="784.80" font-size="16.3" text-anchor="middle">300</text>
<rect x="819.00" y="767.00" width="3.00" height="4.30" fill="#080808"/>
<text x="821.00" y="784.80" font-size="16.3" text-anchor="middle">3</text>
<rect x="839.80" y="767.00" width="3.00" height="4.30" fill="#080808"/>
<text x="838.50" y="784.80" font-size="16.3" text-anchor="middle">30</text>
<rect x="861.30" y="767.00" width="3.00" height="4.30" fill="#080808"/>
<text x="864.90" y="784.80" font-size="16.3" text-anchor="middle">300</text>
<rect x="755.30" y="636.80" width="15.90" height="126.90" fill="#7dcafb"/>
<rect x="758.00" y="634.90" width="10.10" height="2.10" fill="#7dcafb"/>
<rect x="815.20" y="763.50" width="10.20" height="2.30" fill="#fb1400"/>
<text transform="translate(762.70 632.61) scale(1.393 1)" x="0" y="0" font-size="14.26" text-anchor="middle" style="stroke-width:0.71px">***</text>
<rect x="788.40" y="644.70" width="22.10" height="12.30" fill="#8e9997"/>
<text x="820.60" y="655.40" font-size="16.3">Negative control</text>
<rect x="788.40" y="664.60" width="22.10" height="12.30" fill="#7dcafb"/>
<text x="820.60" y="675.60" font-size="16.3">LPS</text>
<rect x="788.40" y="684.80" width="22.10" height="12.30" fill="#080808"/>
<text x="820.60" y="695.90" font-size="16.3">Isotype control</text>
<rect x="788.40" y="704.90" width="22.10" height="12.30" fill="#fb1400"/>
<text x="820.60" y="716.10" font-size="16.3">Ivonescimab</text>
<text x="800.70" y="804.00" font-size="16.3" text-anchor="middle">Antibody conc. (nM)</text>
</svg>
</body></html>
